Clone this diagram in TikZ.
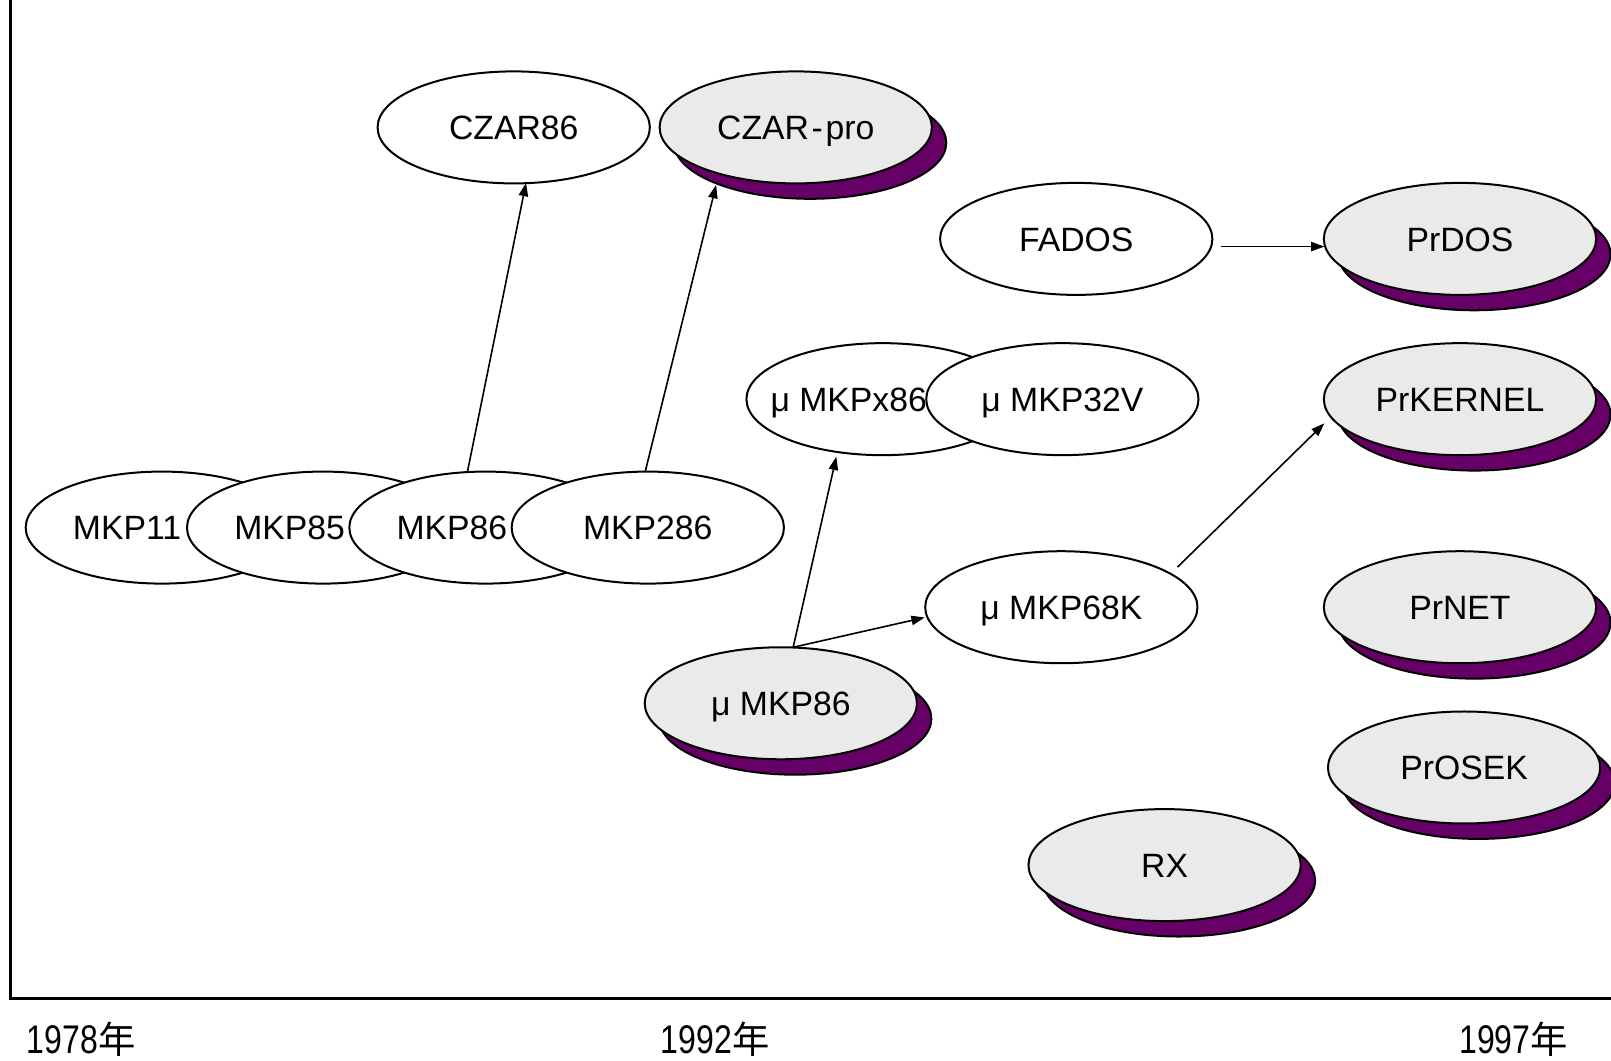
\documentclass[tikz,border=0pt]{standalone}
\usepackage{fontspec}
\usepackage{graphicx}
\setmainfont{Liberation Sans}
\newfontfamily\cjkfont{Noto Sans CJK SC}
\usetikzlibrary{shapes.geometric,arrows.meta,calc,backgrounds}
\definecolor{shadowpurple}{HTML}{660066}
\definecolor{frontgray}{HTML}{EAEAEA}
\newcommand{\shiftedtext}[2]{\makebox[0pt]{\makebox[#1][l]{#2}}}
\begin{document}
\begin{tikzpicture}[x=0.77055pt, y=-0.77055pt,
  oval/.style={ellipse, draw=black, line width=1.5pt, fill=white,
    minimum width=204.2pt, minimum height=84pt, inner sep=0pt,
    text height=18.2pt, text depth=0pt,
    font=\fontsize{25.3}{30}\selectfont},
  grayoval/.style={oval, fill=frontgray},
  shadowoval/.style={draw=black, line width=1.5pt, fill=shadowpurple},
  arr/.style={-{Triangle[length=10pt,width=7pt]}, line width=1.2pt},
  axisline/.style={line width=2.3pt},
  yearlabel/.style={font=\fontsize{30}{34}\selectfont, inner sep=0pt, anchor=base west}]
\useasboundingbox (0,0) rectangle (1568,1032);
% axes
\draw[axisline] (10,0) -- (10,972) -- (1568,972);
% nodes
\node[oval] (czar86) at (500,124) {CZAR86};
\node[grayoval] (czarpro) at (774.5,124) {CZAR\kern2pt-\kern2pt pro};
\node[oval] (fados) at (1047.5,232.5) {FADOS};
\node[grayoval] (prdos) at (1421,232.5) {PrDOS};
\node[oval] (mkpx86) at (859,388.5) {\shiftedtext{168pt}{μ MKPx86}};
\node[oval] (mkp32v) at (1034,388.5) {μ MKP32V};
\node[grayoval] (prkernel) at (1421,388.5) {PrKERNEL};
\node[oval] (mkp11) at (157.5,513.5) {\shiftedtext{133.3pt}{MKP11}};
\node[oval] (mkp85) at (314.5,513.5) {\shiftedtext{133.3pt}{MKP85}};
\node[oval] (mkp86) at (472.5,513.5) {\shiftedtext{133.3pt}{MKP86}};
\node[oval] (mkp286) at (630.5,513.5) {MKP286};
\node[oval] (mkp68k) at (1033,591) {μ MKP68K};
\node[grayoval] (prnet) at (1421,591) {PrNET};
\node[grayoval] (umkp86) at (760,684.5) {μ MKP86};
\node[grayoval] (prosek) at (1425,747) {PrOSEK};
\node[grayoval] (rx) at (1133.5,842) {RX};
% shadows
\begin{scope}[on background layer]
\foreach \n in {czarpro,prdos,prkernel,prnet,umkp86,prosek,rx}
  \draw[shadowoval] ($(\n.center)+(14,15)$) ellipse [x radius=132.5, y radius=54.5];
\end{scope}
% arrows
\draw[arr] ($(mkp86.center)+(-17.5,-54.5)$) -- ($(czar86.center)+(12,54)$);
\draw[arr] ($(mkp286.center)+(-2.5,-54.5)$) -- ($(czarpro.center)+(-77.5,56)$);
\draw[arr] ($(umkp86.center)+(12,-54.5)$) -- ($(mkpx86.center)+(-45,56)$);
\draw[arr] ($(umkp86.center)+(12,-54.5)$) -- ($(mkp68k.center)+(-133,10)$);
\draw[arr] ($(mkp68k.center)+(113,-39)$) -- ($(prkernel.center)+(-132,23.5)$);
\draw[arr] ($(fados.center)+(140.5,7.5)$) -- ($(prdos.center)+(-132,7.5)$);
% year labels
\node[yearlabel] (y1978) at (26,1025) {\scalebox{0.8}[1]{1978}{\cjkfont\fontsize{28}{30}\selectfont 年}};
\node[yearlabel] (y1992) at (643,1025) {\scalebox{0.8}[1]{1992}{\cjkfont\fontsize{28}{30}\selectfont 年}};
\node[yearlabel] (y1997) at (1420,1025) {\scalebox{0.8}[1]{1997}{\cjkfont\fontsize{28}{30}\selectfont 年}};
\end{tikzpicture}
\end{document}
